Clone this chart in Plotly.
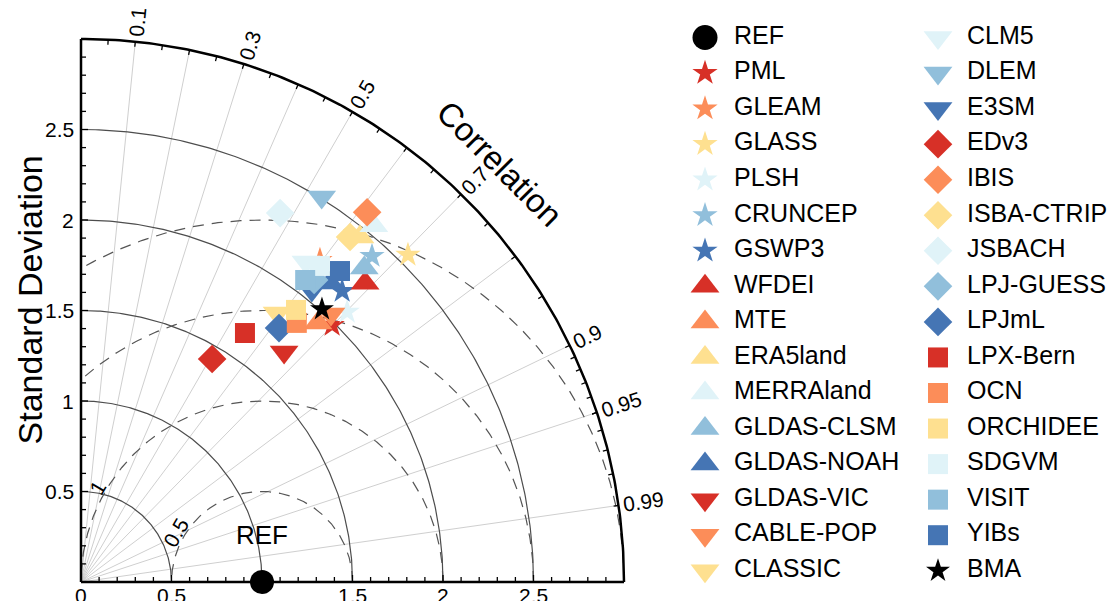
import numpy as np
import plotly.graph_objects as go

# ---------------- data ----------------
models = ["PML", "GLEAM", "GLASS", "PLSH", "CRUNCEP", "GSWP3",
          "WFDEI", "MTE", "ERA5land", "MERRAland", "GLDAS-CLSM", "GLDAS-NOAH",
          "GLDAS-VIC", "CABLE-POP", "CLASSIC", "CLM5", "DLEM", "E3SM",
          "EDv3", "IBIS", "ISBA-CTRIP", "JSBACH", "LPJ-GUESS", "LPJmL",
          "LPX-Bern", "OCN", "ORCHIDEE", "SDGVM", "VISIT", "YIBs", "BMA"]
std_dev = [1.985, 2.215, 2.555, 2.095, 2.414, 2.160,
           2.278, 1.940, 2.451, 2.548, 2.336, 2.150,
           1.695, 2.025, 1.839, 2.161, 2.509, 2.057,
           1.429, 2.583, 2.417, 2.316, 2.108, 1.779,
           1.647, 1.863, 1.916, 2.189, 2.078, 2.236, 2.011]
correlation = [0.699, 0.596, 0.707, 0.702, 0.666, 0.668,
               0.689, 0.675, 0.629, 0.635, 0.670, 0.640,
               0.662, 0.682, 0.589, 0.575, 0.530, 0.620,
               0.507, 0.612, 0.615, 0.475, 0.611, 0.615,
               0.550, 0.640, 0.620, 0.603, 0.596, 0.640, 0.662]
ref_name = "REF"
ref_std = 1.0

std_ticks = [0.5, 1.0, 1.5, 2.0, 2.5]
std_tick_labels_x = ["0", "0.5", "", "1.5", "2", "2.5"]
std_tick_vals_x = [0, 0.5, 1.0, 1.5, 2.0, 2.5]
std_tick_labels_y = ["0.5", "1", "1.5", "2", "2.5"]
rms_circles = [0.5, 1.0, 1.5, 2.0]
rms_labels = ["0.5", "1"]
corr_lines = [0.1, 0.2, 0.3, 0.4, 0.5, 0.6, 0.7, 0.8, 0.9, 0.95, 0.99]
corr_labels = [0.1, 0.3, 0.5, 0.7, 0.9, 0.95, 0.99]
R_MAX = 3.0

# ---------------- styles ----------------
PALETTE = ["#d73027", "#fc8d59", "#fee090", "#e0f3f8", "#91bfdb", "#4575b4"]
SYMBOLS = ["star", "triangle-up", "triangle-down", "diamond", "square"]
SIZES = {"star": 19, "triangle-up": 25, "triangle-down": 25, "diamond": 22,
         "square": 20, "circle": 25}
FONT = "Liberation Sans, Arial, Helvetica, sans-serif"
TICK_FS = 21

colors, symbols = [], []
for i, m in enumerate(models):
    if m == "BMA":
        colors.append("black"); symbols.append("star")
    else:
        colors.append(PALETTE[i % 6]); symbols.append(SYMBOLS[i // 6])

PX = 181.0            # pixels per unit
OX, OY = 81.0, 582.0  # origin in pixels
W, H = 1109, 601
SPLIT = 0.6

fig = go.Figure()

def line(x, y, color, width, dash=None):
    fig.add_trace(go.Scatter(x=x, y=y, mode="lines", hoverinfo="skip",
                             line=dict(color=color, width=width, dash=dash),
                             showlegend=False))

# radial correlation lines
xs, ys = [], []
for c in corr_lines:
    th = np.arccos(c)
    xs += [0, R_MAX * np.cos(th), None]
    ys += [0, R_MAX * np.sin(th), None]
line(xs, ys, "#cfcfcf", 1)

# std-dev arcs (solid)
t = np.linspace(0, np.pi / 2, 200)
xs, ys = [], []
for r in std_ticks:
    xs += list(r * np.cos(t)) + [None]
    ys += list(r * np.sin(t)) + [None]
line(xs, ys, "#4d4d4d", 1.2)

# RMS circles (dashed) centred at reference
xs, ys = [], []
for r in rms_circles:
    tt = np.linspace(0, np.pi, 400)
    cx = ref_std + r * np.cos(tt)
    cy = r * np.sin(tt)
    ok = (cx >= 0) & (np.hypot(cx, cy) <= R_MAX + 1e-9)
    xs += list(np.where(ok, cx, np.nan)) + [None]
    ys += list(np.where(ok, cy, np.nan)) + [None]
line(xs, ys, "#555555", 1.2, dash="11px,8px")

# outer arc + axes
line(list(R_MAX * np.cos(t)), list(R_MAX * np.sin(t)), "black", 2.5)
line([0, R_MAX], [0, 0], "black", 2.5)
line([0, 0], [0, R_MAX], "black", 2.5)

# ticks on axes
xs, ys = [], []
for v in np.round(np.arange(0.1, R_MAX - 0.01, 0.1), 2):
    L = (7 if abs(v * 2 - round(v * 2)) < 1e-6 else 5) / PX
    xs += [v, v, None]; ys += [0, L, None]
    xs += [0, L, None]; ys += [v, v, None]
# ticks on outer arc (inward)
ct = np.concatenate([np.arange(0.05, 0.96, 0.05), np.arange(0.91, 0.995, 0.01)])
for c in ct:
    th = np.arccos(c)
    L = 5 / PX
    xs += [R_MAX * np.cos(th), (R_MAX - L) * np.cos(th), None]
    ys += [R_MAX * np.sin(th), (R_MAX - L) * np.sin(th), None]
line(xs, ys, "black", 1.3)

# models
for m, s, c, col, sym in zip(models, std_dev, correlation, colors, symbols):
    th = np.arccos(c)
    fig.add_trace(go.Scatter(x=[s * np.cos(th)], y=[s * np.sin(th)], mode="markers",
                             name=m, showlegend=False,
                             marker=dict(symbol=sym, size=SIZES[sym] - (1 if m == "BMA" else 0),
                                         color=col, line=dict(width=0))))
# reference point
fig.add_trace(go.Scatter(x=[ref_std], y=[0], mode="markers", name=ref_name,
                         showlegend=False, cliponaxis=False,
                         marker=dict(symbol="circle", size=24, color="black")))

ann = []
def A(x, y, text, size, **kw):
    d = dict(x=x, y=y, text=text, showarrow=False, xref="x", yref="y",
             font=dict(family=FONT, size=size, color="black"))
    d.update(kw)
    ann.append(d)

# x tick labels
for v, lab in zip(std_tick_vals_x, std_tick_labels_x):
    if lab:
        A(v, 0, lab, TICK_FS, yanchor="top", xanchor="center", yshift=0)
# y tick labels
for v, lab in zip(std_ticks, std_tick_labels_y):
    A(0, v, lab, TICK_FS, xanchor="right", yanchor="middle", xshift=-5)

# correlation labels
for c in corr_labels:
    th = np.arccos(c)
    txt = f"{c:g}"
    w = TICK_FS * (0.556 * sum(ch.isdigit() for ch in txt) + 0.278 * txt.count("."))
    rr = R_MAX + (w / 2 + 5) / PX
    A(rr * np.cos(th), rr * np.sin(th), txt, TICK_FS, xanchor="center", yanchor="middle",
      textangle=-np.degrees(th))

# RMS labels (tangent to circles)
for r, lab in zip(rms_circles[:2], rms_labels):
    tdeg = 150
    tt = np.radians(tdeg)
    rr = r + 9 / PX
    A(ref_std + rr * np.cos(tt), rr * np.sin(tt), lab, TICK_FS, xanchor="center",
      yanchor="middle", textangle=-(tdeg - 90))

A(ref_std, 0.26, ref_name, 26, xanchor="center", yanchor="middle")
A(3.27 * np.cos(np.pi / 4), 3.27 * np.sin(np.pi / 4), "Correlation", 33,
  xanchor="center", yanchor="middle", textangle=45)
A(-0.283, 1.56, "Standard Deviation", 34, xanchor="center", yanchor="middle",
  textangle=-90)

# ---------------- legend (drawn in its own axes) ----------------
leg_names = [ref_name] + models
leg_colors = ["black"] + colors
leg_symbols = ["circle"] + symbols
n_rows = 16
LEG_X = [705, 938]
LEG_Y0, LEG_DY = 37.5, 35.55
lx, ly = [], []
for i in range(len(leg_names)):
    col, row = divmod(i, n_rows)
    lx.append(LEG_X[col]); ly.append(LEG_Y0 + row * LEG_DY)
for i, (nm, col, sym) in enumerate(zip(leg_names, leg_colors, leg_symbols)):
    fig.add_trace(go.Scatter(x=[lx[i]], y=[ly[i]], mode="markers", xaxis="x2", yaxis="y2",
                             showlegend=False, hoverinfo="skip", cliponaxis=False,
                             marker=dict(symbol=sym, size=SIZES[sym] - (1 if nm == "BMA" else 0),
                                         color=col, line=dict(width=0))))
fig.add_trace(go.Scatter(x=[v + 29 for v in lx], y=ly, mode="text", text=leg_names,
                         textposition="middle right", xaxis="x2", yaxis="y2",
                         showlegend=False, hoverinfo="skip", cliponaxis=False,
                         textfont=dict(family=FONT, size=25, color="black")))

x0 = -OX / PX
x1 = (SPLIT * W - OX) / PX
y0 = -(H - OY) / PX
y1 = OY / PX
fig.update_layout(
    width=W, height=H, margin=dict(l=0, r=0, t=0, b=0),
    paper_bgcolor="white", plot_bgcolor="rgba(0,0,0,0)",
    xaxis=dict(domain=[0, SPLIT], range=[x0, x1], visible=False, fixedrange=True),
    yaxis=dict(domain=[0, 1], range=[y0, y1], visible=False, fixedrange=True),
    xaxis2=dict(domain=[SPLIT, 1], range=[SPLIT * W, W], visible=False, anchor="y2",
                fixedrange=True),
    yaxis2=dict(domain=[0, 1], range=[H, 0], visible=False, anchor="x2", fixedrange=True),
    annotations=ann, showlegend=False,
)
fig.write_html("out.html", config={"displayModeBar": False},
               post_script="document.body.style.margin='0';document.body.style.overflow='hidden';")
